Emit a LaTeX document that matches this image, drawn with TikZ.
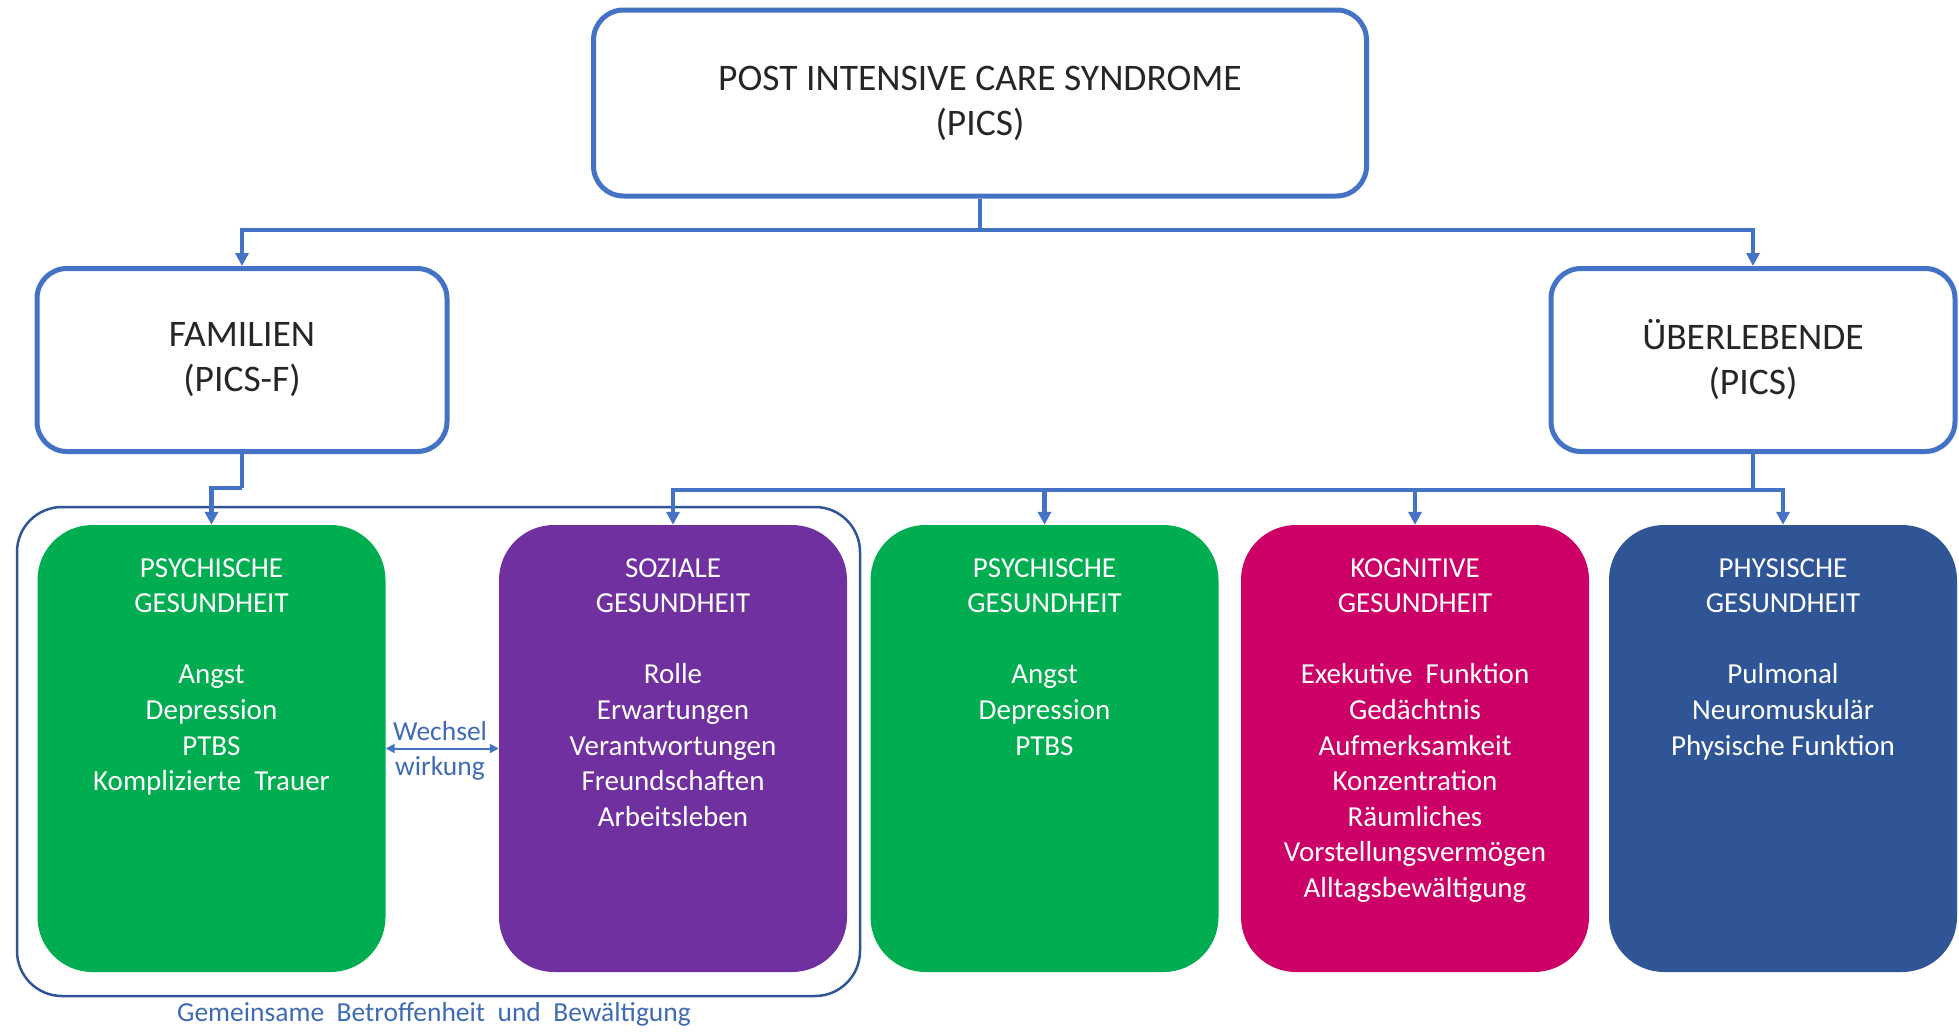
\documentclass[tikz,border=0pt]{standalone}
\usepackage{fontspec}
\setmainfont{Carlito}
\usetikzlibrary{arrows.meta}
\definecolor{lineblue}{HTML}{4472C4}
\definecolor{frameblue}{HTML}{2F5597}
\definecolor{grn}{HTML}{00AD50}
\definecolor{pur}{HTML}{7030A0}
\definecolor{mag}{HTML}{CC0066}
\definecolor{blu}{HTML}{2F5597}
\definecolor{txt}{HTML}{262626}
\definecolor{captxt}{HTML}{3F6BB5}
\begin{document}
\begin{tikzpicture}[x=1pt,y=-1pt,
  whitebox/.style={draw=lineblue, line width=5pt, rounded corners=30pt, fill=white,
    inner sep=0pt, align=center, text=txt, font=\fontsize{37.5}{45}\selectfont},
  colbox/.style={rounded corners=55pt, minimum width=348pt, minimum height=447pt, inner sep=0pt},
  boxtext/.style={anchor=north, inner sep=0pt, align=center, text=white,
    font=\fontsize{29}{35.6}\selectfont},
  conn/.style={draw=lineblue, line width=4.5pt},
  arr/.style={conn, -{Triangle[length=13pt,width=13pt]}},
  smalltext/.style={text=captxt, inner sep=0pt, align=center, font=\fontsize{27.5}{35}\selectfont}
]
\useasboundingbox (0,0) rectangle (1959,1031);

% outer frame
\node[draw=frameblue, line width=2.5pt, rounded corners=45pt, minimum width=843pt,
  minimum height=489pt, inner sep=0pt] (frame) at (438.5,751.5) {};

% white boxes
\node[whitebox, minimum width=773pt, minimum height=186pt] (top) at (980,103)
  {\raisebox{-3pt}{POST INTENSIVE CARE SYNDROME}\\\raisebox{-3pt}{(PICS)}};
\node[whitebox, minimum width=410pt, minimum height=183pt] (fam) at (242,360)
  {\raisebox{-3pt}{FAMILIEN}\\\raisebox{-3pt}{(PICS-F)}};
\node[whitebox, minimum width=404pt, minimum height=183pt] (surv) at (1753,360)
  {\raisebox{-3pt}{ÜBERLEBENDE}\\\raisebox{-3pt}{(PICS)}};

% coloured boxes
\node[colbox, fill=grn] (g1) at (211.5,748.5) {};
\node[colbox, fill=pur] (p) at (673,748.5) {};
\node[colbox, fill=grn] (g2) at (1044.5,748.5) {};
\node[colbox, fill=mag] (m) at (1415,748.5) {};
\node[colbox, fill=blu] (b) at (1783,748.5) {};

\node[boxtext] (g1t) at (211.5,558) {PSYCHISCHE\\GESUNDHEIT\\[35.6pt]Angst\\Depression\\PTBS\\Komplizierte\ \ Trauer};
\node[boxtext] (pt) at (673,558) {SOZIALE\\GESUNDHEIT\\[35.6pt]Rolle\\Erwartungen\\Verantwortungen\\Freundschaften\\Arbeitsleben};
\node[boxtext] (g2t) at (1044.5,558) {PSYCHISCHE\\GESUNDHEIT\\[35.6pt]Angst\\Depression\\PTBS};
\node[boxtext] (mt) at (1415,558) {KOGNITIVE\\GESUNDHEIT\\[35.6pt]Exekutive\ \ Funktion\\Gedächtnis\\Aufmerksamkeit\\Konzentration\\Räumliches\\Vorstellungsvermögen\\Alltagsbewältigung};
\node[boxtext] (bt) at (1783,558) {PHYSISCHE\\GESUNDHEIT\\[35.6pt]Pulmonal\\Neuromuskulär\\Physische Funktion};

% connectors
\coordinate (split) at (980,230);
\coordinate (famjog) at (242,488);
\coordinate (hub) at (1753,490);
\draw[conn] (top.south) -- (split);
\draw[arr] (split) -| (fam.north);
\draw[arr] (split) -| (surv.north);
\draw[conn] (fam.south) -- (famjog);
\draw[arr] (famjog) -| (g1.north);
\draw[conn] (surv.south) -- (hub);
\draw[arr] (hub) -| (p.north);
\draw[arr] (hub) -| (g2.north);
\draw[arr] (hub) -| (m.north);
\draw[arr] (hub) -| (b.north);

% interaction
\draw[lineblue, line width=2pt, {Triangle[length=9pt,width=9pt]}-{Triangle[length=9pt,width=9pt]}]
  (g1.east) -- (p.west);
\node[smalltext] (ww) at (440,751) {Wechsel\\wirkung};

\node[smalltext] (cap) at (434,1014) {Gemeinsame\ \ Betroffenheit\ \ und\ \ Bewältigung};
\end{tikzpicture}
\end{document}
